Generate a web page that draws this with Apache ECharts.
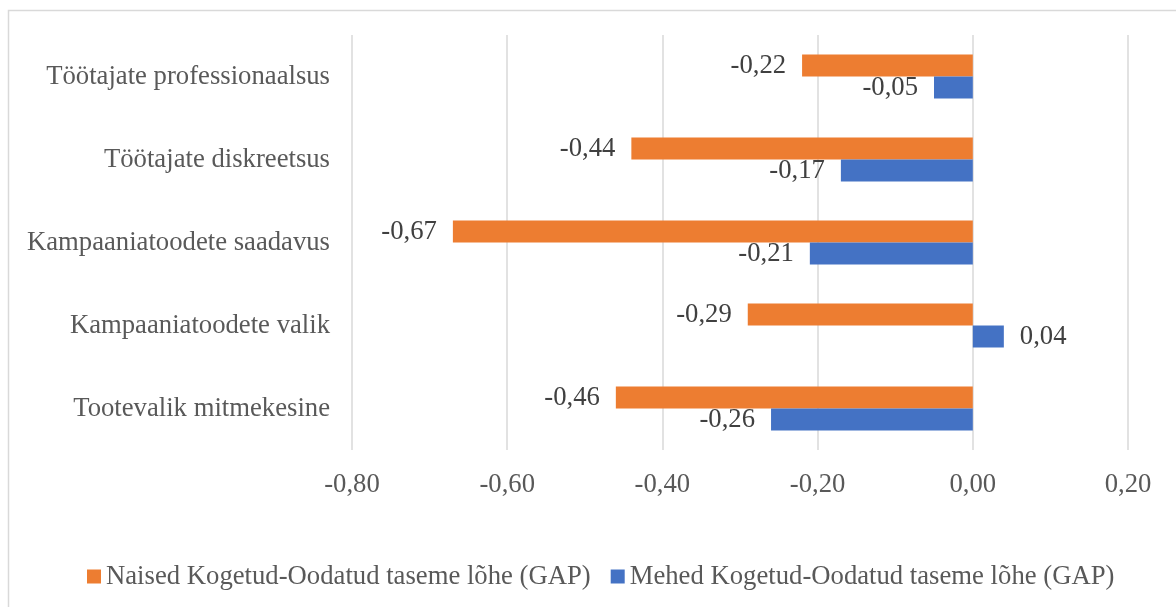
<!DOCTYPE html>
<html>
<head>
<meta charset="utf-8">
<script src="https://cdn.jsdelivr.net/npm/echarts@6/dist/echarts.min.js"></script>
<style>
  html, body { margin: 0; padding: 0; background: #fff; }
  #chart { width: 1176px; height: 607px; }
</style>
</head>
<body>
<div id="chart"></div>
<script>
// Categories, top to bottom
const categories = [
  'Töötajate professionaalsus',
  'Töötajate diskreetsus',
  'Kampaaniatoodete saadavus',
  'Kampaaniatoodete valik',
  'Tootevalik mitmekesine'
];
const seriesNames = [
  'Naised Kogetud-Oodatud taseme lõhe (GAP)',
  'Mehed Kogetud-Oodatud taseme lõhe (GAP)'
];
const naisedGap = [-0.22, -0.44, -0.67, -0.29, -0.46];
const mehedGap  = [-0.05, -0.17, -0.21, 0.04, -0.26];
const axisMin = -0.8, axisMax = 0.2, axisStep = 0.2;

const FONT = '"Liberation Serif", "Times New Roman", serif';
const FS = 26.7;
const fmt = v => v.toFixed(2).replace('.', ',');

function barData(values) {
  return values.map(v => ({
    value: v,
    label: { position: v < 0 ? 'left' : 'right' }
  }));
}

function barSeries(name, values, color) {
  return {
    name: name,
    type: 'bar',
    data: barData(values),
    barWidth: 22,
    barGap: '0%',
    itemStyle: { color: color },
    label: {
      show: true,
      distance: 16,
      padding: [4, 0, 0, 0],
      fontFamily: FONT,
      fontSize: FS,
      color: '#404040',
      formatter: p => fmt(p.value)
    }
  };
}

const chart = echarts.init(document.getElementById('chart'));
chart.setOption({
  animation: false,
  backgroundColor: '#fff',
  graphic: [{
    type: 'rect',
    shape: { x: 8.5, y: 10.5, width: 1300, height: 800 },
    style: { fill: 'none', stroke: '#d9d9d9', lineWidth: 1.5 },
    silent: true,
    z: -1
  }],
  grid: { left: 352, right: 48, top: 35, bottom: 157, containLabel: false },
  legend: {
    bottom: 12,
    left: 82,
    itemWidth: 14,
    itemHeight: 14,
    itemGap: 20,
    icon: 'rect',
    textStyle: { fontFamily: FONT, fontSize: FS, color: '#595959', padding: [2, 0, 0, 0] },
    data: seriesNames
  },
  xAxis: {
    type: 'value',
    min: axisMin,
    max: axisMax,
    interval: axisStep,
    axisLine: { show: false },
    axisTick: { show: false },
    splitLine: { lineStyle: { color: '#d9d9d9', width: 1.5 } },
    axisLabel: {
      margin: 21,
      fontFamily: FONT,
      fontSize: FS,
      color: '#595959',
      formatter: v => fmt(v)
    }
  },
  yAxis: {
    type: 'category',
    inverse: true,
    data: categories,
    axisLine: { show: false },
    axisTick: { show: false },
    axisLabel: {
      margin: 22,
      fontFamily: FONT,
      fontSize: FS,
      color: '#595959'
    }
  },
  series: [
    barSeries(seriesNames[0], naisedGap, '#ED7D31'),
    barSeries(seriesNames[1], mehedGap, '#4472C4')
  ]
});
</script>
</body>
</html>
